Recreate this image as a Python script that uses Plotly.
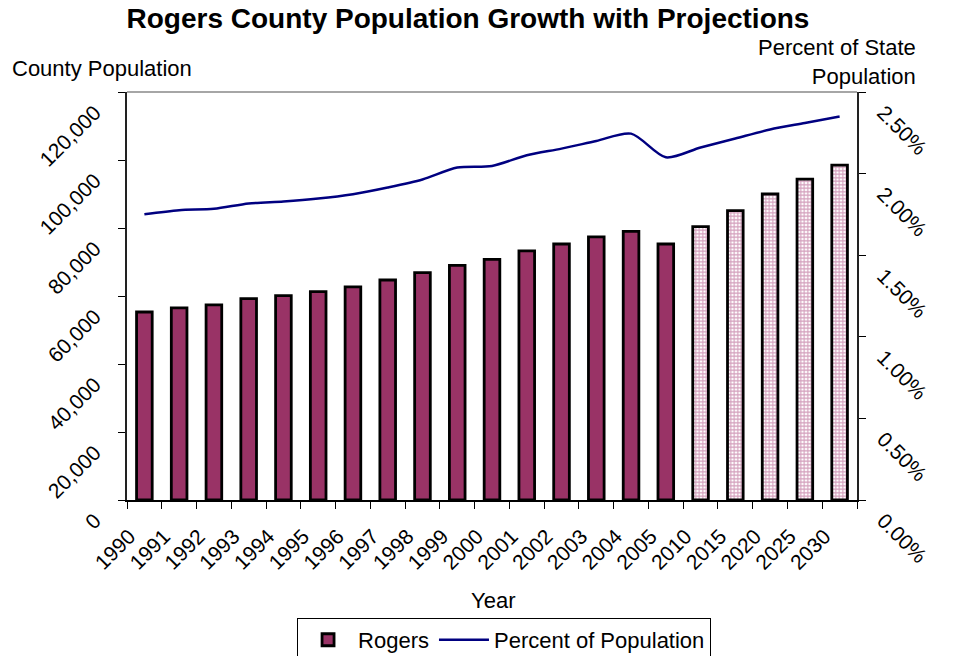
import plotly.graph_objects as go

years = ["1990", "1991", "1992", "1993", "1994", "1995", "1996", "1997", "1998", "1999",
         "2000", "2001", "2002", "2003", "2004", "2005", "2010", "2015", "2020", "2025", "2030"]
rogers_pop = [55300, 56500, 57400, 59200, 60100, 61300, 62700, 64700, 66900, 69000,
              70800, 73300, 75300, 77400, 79000, 75300, 80400, 85100, 90000, 94400, 98500]
pct_of_state = [0.01751, 0.01776, 0.01784, 0.01817, 0.01829, 0.01847, 0.01874, 0.01915, 0.01964, 0.02037,
                0.02047, 0.02112, 0.02153, 0.02200, 0.02245, 0.02100, 0.02160, 0.02215, 0.02270, 0.02310, 0.02350]
projected = [False] * 16 + [True] * 5

left_ticks = [0, 20000, 40000, 60000, 80000, 100000, 120000]
left_tick_text = ["0", "20,000", "40,000", "60,000", "80,000", "100,000", "120,000"]
right_ticks = [0, 0.005, 0.01, 0.015, 0.02, 0.025]
right_tick_text = ["0.00%", "0.50%", "1.00%", "1.50%", "2.00%", "2.50%"]

FONT = "Liberation Sans, Arial, sans-serif"
PLUM = "#993366"

fig = go.Figure()
fig.add_trace(go.Bar(
    x=years, y=rogers_pop, name="Rogers", yaxis="y", width=0.45,
    marker=dict(
        color=PLUM,
        line=dict(color="black", width=2.8),
        pattern=dict(
            shape=["+" if p else "" for p in projected],
            fgcolor="#a8407a", bgcolor="white", size=3.5, solidity=0.55,
        ),
    ),
))
fig.add_trace(go.Scatter(
    x=years, y=pct_of_state, name="Percent of Population", yaxis="y2",
    mode="lines", line=dict(color="#000080", width=2.5, shape="spline", smoothing=0.8),
))

tick_font = dict(family=FONT, size=21, color="black")
text_font = dict(family=FONT, size=22, color="black")

fig.update_layout(
    width=959, height=656,
    margin=dict(l=127, r=102, t=92, b=156, autoexpand=False),
    paper_bgcolor="white", plot_bgcolor="white",
    font=dict(family=FONT, color="black"),
    showlegend=True,
    title=dict(text="<b>Rogers County Population Growth with Projections</b>",
               x=0.488, xanchor="center", y=0.9726, yanchor="middle",
               font=dict(family=FONT, size=28, color="black")),
    xaxis=dict(type="category", categoryarray=years, range=[-0.5, 20.5],
               tickson="boundaries", ticks="outside", ticklen=7, tickcolor="black",
               showline=True, linecolor="black", linewidth=1.5, showgrid=False,
               tickangle=-45, tickfont=tick_font,
               ticklabelshift=-15, ticklabelstandoff=14),
    xaxis2=dict(overlaying="x", anchor="y", range=[-0.5, 20.5],
                tickmode="linear", tick0=-0.5, dtick=1, ticks="inside", ticklen=6,
                tickcolor="black", showticklabels=False, showgrid=False, zeroline=False,
                showline=False),
    yaxis=dict(range=[0, 120000], tickvals=left_ticks, ticktext=left_tick_text,
               ticks="outside", ticklen=7, tickcolor="black",
               showline=True, linecolor="#222222", linewidth=2, showgrid=False, zeroline=False,
               tickangle=-45, tickfont=tick_font,
               ticklabelshift=18, ticklabelstandoff=19),
    yaxis2=dict(range=[0, 0.025], tickvals=right_ticks, ticktext=right_tick_text,
                overlaying="y", side="right", anchor="x",
                ticks="outside", ticklen=7, tickcolor="black",
                showline=True, linecolor="#222222", linewidth=2, showgrid=False, zeroline=False,
                tickangle=45, tickfont=tick_font,
                ticklabelshift=18, ticklabelstandoff=13),
    yaxis3=dict(range=[0, 120000], tickvals=left_ticks, overlaying="y", side="left", anchor="x",
                ticks="inside", ticklen=6, tickcolor="black", showticklabels=False,
                showgrid=False, zeroline=False, showline=False),
    yaxis4=dict(range=[0, 0.025], tickvals=right_ticks, overlaying="y", side="right", anchor="x",
                ticks="inside", ticklen=6, tickcolor="black", showticklabels=False,
                showgrid=False, zeroline=False, showline=False),
    legend=dict(orientation="h", xref="container", yref="container",
                x=0.5256, xanchor="center", y=0.058, yanchor="top",
                bordercolor="black", borderwidth=1, bgcolor="white",
                font=text_font, itemwidth=50, tracegroupgap=0),
    shapes=[dict(type="line", xref="paper", yref="paper", x0=0, x1=1, y0=1, y1=1,
                 line=dict(color="#888888", width=1.5))],
    annotations=[
        dict(text="County Population", xref="paper", yref="paper", x=-0.160, y=1.0588,
             xanchor="left", yanchor="middle", showarrow=False, font=text_font),
        dict(text="Percent of State<br>Population", xref="paper", yref="paper", x=1.0836, y=1.0735,
             xanchor="right", yanchor="middle", align="right", showarrow=False, font=text_font),
        dict(text="Year", xref="paper", yref="paper", x=0.502, y=-0.246,
             xanchor="center", yanchor="middle", showarrow=False, font=text_font),
    ],
)

fig.write_html("out.html")
